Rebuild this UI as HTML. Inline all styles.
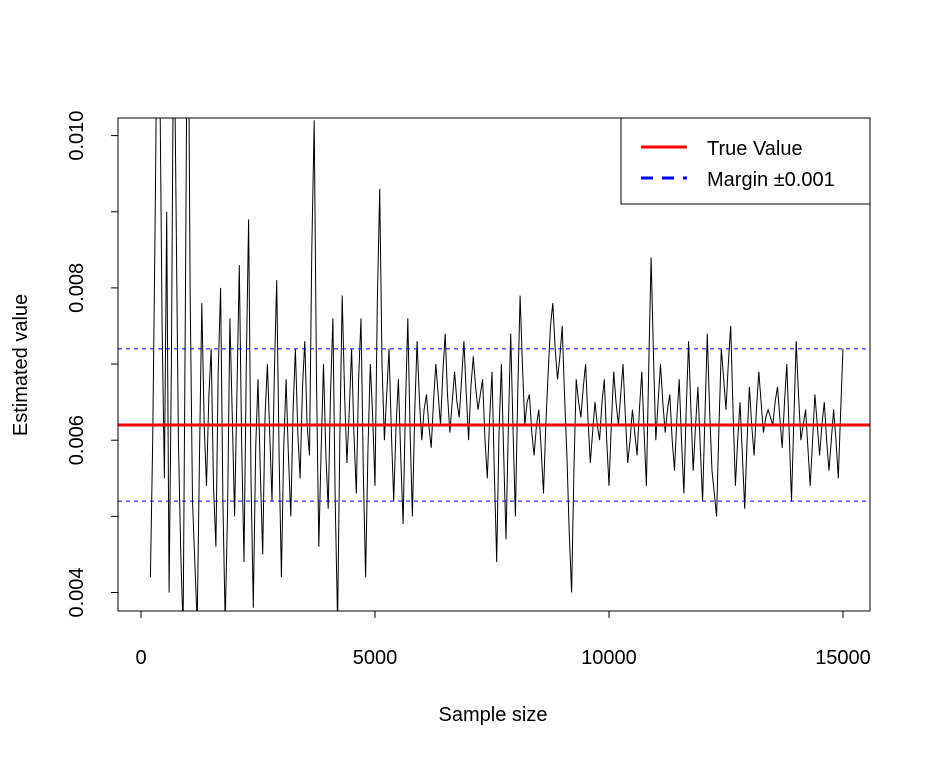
<!DOCTYPE html>
<html><head><meta charset="utf-8"><style>body{margin:0;background:#fff}svg{display:block;font-family:"Liberation Sans",Arial,sans-serif}</style></head>
<body>
<svg id="chart" width="931" height="759" xmlns="http://www.w3.org/2000/svg"></svg>
<script>
const xTicks=[0,5000,10000,15000];
const yTicks=[0.004,0.005,0.006,0.007,0.008,0.009,0.010];
const yLabels=["0.004","","0.006","","0.008","","0.010"];
const trueValue=0.0062;
const margin=0.001;
const startN=200, stepN=50;
const est=[4.2,6.0,8.7,12,11,7.5,5.5,9,4.0,7,12,9,6.0,4.5,3.5,8,13,8,5.2,4.4,3.6,5.8,7.8,6.2,5.4,6.6,7.2,
5.4,4.6,6.9,8.0,5.2,3.6,5.1,7.6,6.3,5.0,6.6,8.3,6.0,4.4,7.0,8.9,5.5,3.8,5.9,6.8,5.6,4.5,6.3,7.0,6.1,5.2,6.9,8.1,5.8,4.2,
5.9,6.8,5.8,5.0,6.4,7.2,6.1,5.5,6.7,7.3,6.2,5.8,8.5,10.2,6.8,4.6,5.9,7.0,5.8,5.1,6.6,7.6,5.2,3.6,6.1,7.9,6.6,5.7,6.4,7.2,
6.1,5.3,6.8,7.6,5.6,4.2,5.9,7.0,6.3,5.4,7.8,9.3,7.0,6.0,6.6,7.2,6.1,5.2,6.2,6.8,5.8,4.9,6.4,7.6,6.1,5.0,6.4,7.3,6.5,6.0,
6.4,6.6,6.2,5.9,6.5,7.0,6.6,6.2,6.9,7.4,6.6,6.1,6.5,6.9,6.5,6.3,6.8,7.3,6.6,6.0,6.7,7.1,6.7,6.4,6.6,6.8,6.0,5.5,6.3,6.9,
5.6,4.4,6.1,7.0,5.8,4.7,6.2,7.4,6.1,5.0,6.6,7.9,7.0,6.2,6.5,6.6,6.1,5.8,6.2,6.4,5.9,5.3,6.2,6.9,7.5,7.8,7.2,6.8,7.1,7.5,
6.6,5.8,4.8,4.0,5.6,6.8,6.5,6.3,6.7,7.0,6.3,5.7,6.1,6.5,6.2,6.0,6.5,6.8,6.0,5.4,6.2,6.9,6.5,6.2,6.6,7.0,6.3,5.7,6.0,6.4,
6.1,5.8,6.4,6.9,6.1,5.4,7.0,8.4,7.1,6.0,6.5,7.0,6.5,6.1,6.4,6.6,6.0,5.6,6.3,6.8,6.0,5.3,6.4,7.3,6.4,5.6,6.2,6.7,5.9,5.2,
6.3,7.4,6.4,5.6,5.3,5.0,6.2,7.2,6.8,6.4,7.0,7.5,6.4,5.4,6.0,6.5,5.8,5.1,6.0,6.7,6.2,5.8,6.4,6.9,6.5,6.1,6.3,6.4,6.3,6.2,
6.5,6.7,6.3,5.9,6.5,7.0,6.1,5.2,6.3,7.3,6.6,6.0,6.2,6.4,5.9,5.4,6.0,6.6,6.2,5.8,6.2,6.5,6.0,5.6,6.0,6.4,6.0,5.5,6.4,7.2];
const L=118,R=870,T=118,B=611;
const X=v=>141+v*(843-141)/15000;
const Y=v=>440.2-(v-0.006)*76150;
const svg=document.getElementById('chart');
const NS='http://www.w3.org/2000/svg';
function mk(tag,attrs,parent){const e=document.createElementNS(NS,tag);for(const k in attrs)e.setAttribute(k,attrs[k]);(parent||svg).appendChild(e);return e;}
const defs=mk('defs',{});const cp=mk('clipPath',{id:'clip'},defs);mk('rect',{x:L,y:T,width:R-L,height:B-T},cp);
const g=mk('g',{'clip-path':'url(#clip)'});


let pts=est.map((v,i)=>X(startN+i*stepN).toFixed(1)+','+Y(v/1000).toFixed(1)).join(' ');
const line=mk('polyline',{points:pts,fill:'none',stroke:'#000','stroke-width':1},g);


const tl=mk('line',{x1:L,x2:R,y1:Y(trueValue),y2:Y(trueValue),stroke:'#f00','stroke-width':3},g);


[trueValue+margin,trueValue-margin].forEach(v=>{const m=mk('line',{x1:L,x2:R,y1:Y(v),y2:Y(v),stroke:'#00f','stroke-width':1,'stroke-dasharray':'4,4'},g);

});
const box=mk('rect',{x:L,y:T,width:R-L,height:B-T,fill:'none',stroke:'#000','stroke-width':1});


mk('line',{x1:X(xTicks[0]),x2:X(xTicks[xTicks.length-1]),y1:B,y2:B,stroke:'#000'});
xTicks.forEach(t=>{mk('line',{x1:X(t),x2:X(t),y1:B,y2:B+7,stroke:'#000'});
const tx=mk('text',{x:X(t),y:664,'font-size':20,'text-anchor':'middle'});tx.textContent=t;

});
yTicks.forEach((t,i)=>{mk('line',{x1:L-7,x2:L,y1:Y(t),y2:Y(t),stroke:'#000'});
if(yLabels[i]){const tx=mk('text',{x:0,y:0,'font-size':20,'text-anchor':'middle',transform:`translate(83,${Y(t)}) rotate(-90)`});tx.textContent=yLabels[i];

}});
const xt=mk('text',{x:493,y:721,'font-size':20,'text-anchor':'middle'});xt.textContent='Sample size';


const yt=mk('text',{x:0,y:0,'font-size':20,'text-anchor':'middle',transform:'translate(27,365) rotate(-90)'});yt.textContent='Estimated value';


const lg=mk('g',{});


mk('rect',{x:621,y:118,width:249,height:86,fill:'#fff',stroke:'#000'},lg);
mk('line',{x1:641,x2:687,y1:147,y2:147,stroke:'#f00','stroke-width':3},lg);
mk('line',{x1:641,x2:687,y1:178,y2:178,stroke:'#00f','stroke-width':3,'stroke-dasharray':'12,9'},lg);
const l1=mk('text',{x:707,y:155,'font-size':20},lg);l1.textContent='True Value';


const l2=mk('text',{x:707,y:186,'font-size':20},lg);l2.textContent='Margin ±0.001';


</script>
</body></html>
